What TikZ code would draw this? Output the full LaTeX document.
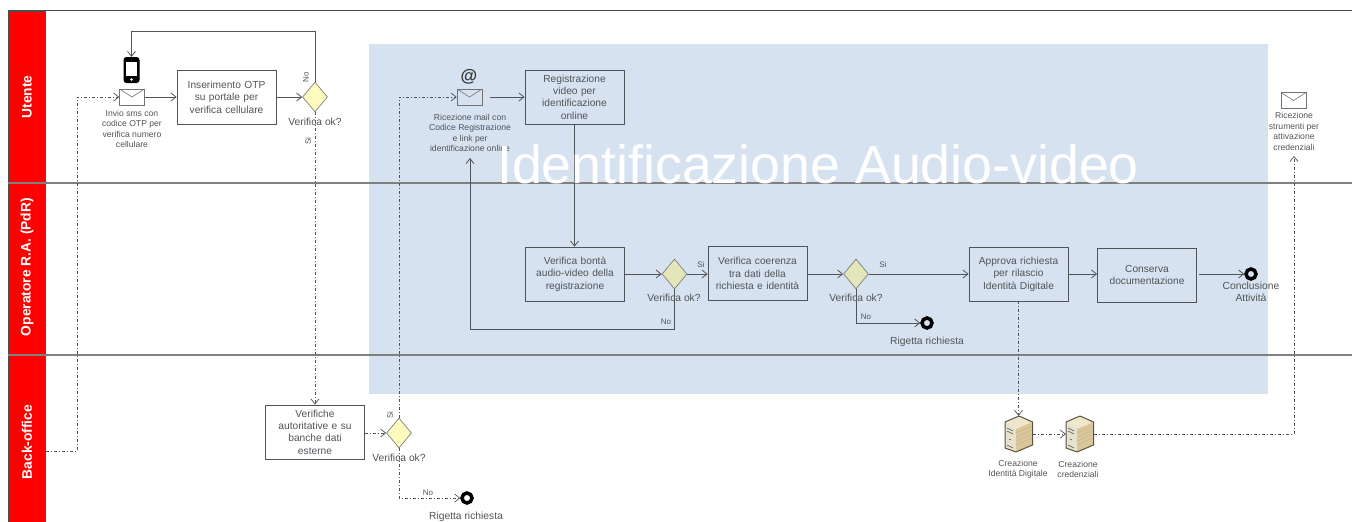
\documentclass[tikz,border=0pt]{standalone}
\usepackage{fontspec}
\setmainfont{Liberation Sans}
\usetikzlibrary{arrows.meta, shapes.geometric}
\definecolor{laneRed}{RGB}{255,0,0}
\definecolor{panelBlue}{RGB}{215,226,240}
\definecolor{inkGrey}{RGB}{80,84,88}
\definecolor{gateYellow}{RGB}{255,250,190}
\definecolor{gatePale}{RGB}{226,230,184}
\definecolor{srvTop}{RGB}{238,230,205}
\definecolor{srvSide}{RGB}{218,198,150}
\definecolor{srvFront}{RGB}{230,226,205}
\definecolor{srvEdge}{RGB}{90,82,62}
\tikzset{
    lane/.style={draw=black!70,fill=laneRed,minimum width=37pt,inner sep=0pt,anchor=north west},
    laneText/.style={rotate=90,text=white,font=\fontsize{13.8}{15}\bfseries\selectfont},
    laneLine/.style={draw=black!50,line width=1.2pt},
    taskBox/.style={draw=inkGrey,line width=0.8pt,minimum width=99pt,minimum height=54pt,inner sep=1pt,
        text width=96pt,align=center,text=inkGrey,font=\fontsize{10.2}{12.4}\selectfont},
    gateA/.style={diamond,draw=black!50,fill=gateYellow,line width=0.7pt,minimum width=25pt,minimum height=30pt,inner sep=0pt},
    gateB/.style={gateA,fill=gatePale},
    gateText/.style={text=inkGrey,font=\fontsize{10.3}{12.4}\selectfont},
    note/.style={text=inkGrey,align=center,font=\fontsize{8.6}{10.4}\selectfont},
    flagText/.style={text=inkGrey,font=\fontsize{8}{10}\selectfont},
    mail/.style={draw=black!55,line width=0.7pt,minimum width=25pt,minimum height=16pt,inner sep=0pt,
        path picture={\draw[black!55,line width=0.6pt] (path picture bounding box.north west)--(path picture bounding box.center)--(path picture bounding box.north east);}},
    endEvent/.style={circle,draw=black,line width=3.5pt,minimum size=10pt,inner sep=0pt},
    flow/.style={draw=inkGrey,line width=0.8pt,-{Straight Barb[length=5pt,width=8pt]}},
    msg/.style={flow,line width=0.7pt,dash pattern=on 3pt off 2pt on 1pt off 2pt},
    srvicon/.pic={
        \fill[srvTop] (-14,-12)--(0,-18)--(13.5,-12)--(-3,-5)--cycle;
        \fill[srvSide] (-3,-5)--(13.5,-12)--(13.5,11)--(-3,18)--cycle;
        \fill[srvFront] (-14,-12)--(-3,-5)--(-3,18)--(-14,14)--cycle;
        \foreach \i in {-1,3,7,11}{
            \draw[srvSide!70!black!60!white,line width=0.6pt] (-3,\i)--(13.5,\i-7);
        }
        \draw[black!70,line width=0.5pt] (-12,-6)--(-6,-3) (-12,-3)--(-6,0) (-10,5)--(-8,6) (-12,11)--(-6,14);
        \draw[srvEdge,line width=1pt,line join=round] (-14,-12)--(0,-18)--(13.5,-12)--(13.5,11)--(-3,18)--(-14,14)--cycle;
    },
}

\begin{document}
\begin{tikzpicture}[x=1pt,y=-1pt]
    \useasboundingbox (0,0) rectangle (1352,522);

    \fill[panelBlue] (369,44) rectangle (1268,394);

    % swimlanes
    \node[lane,minimum height=172pt] (laneUser) at (8,11) {};
    \node[lane,minimum height=172pt] (laneOper) at (8,183) {};
    \node[lane,minimum height=167pt] (laneBack) at (8,355) {};
    \node[laneText] (txtUser) at (27,97) {Utente};
    \node[laneText] (txtOper) at (27,267) {Operatore R.A. (PdR)};
    \node[laneText] (txtBack) at (27,442) {Back-office};
    \draw[draw=black!70,line width=0.8pt] (8,10.5)--(1352,10.5);
    \draw[laneLine] (8,183)--(1352,183);
    \draw[laneLine] (8,355)--(1352,355);

    % Utente
    \node[mail] (mailSms) at (132,97) {};
    \node[note] (txtSms) at (132,129) {Invio sms con\\codice OTP per\\verifica numero\\cellulare};
    \node[draw=black,fill=black,rounded corners=2.5pt,minimum width=15pt,minimum height=25pt,inner sep=0pt,line width=1pt] (phone) at (131.5,70) {};
    \fill[white] (126,62) rectangle (137,76);
    \fill[white] (131.5,79.5) circle (1.3);
    \node[taskBox] (boxOtp) at (226.5,97) {Inserimento OTP\\su portale per\\verifica cellulare};
    \node[gateA] (gateOtp) at (315,97) {};
    \node[gateText] (txtGateOtp) at (315,122) {Verifica ok?};
    \node[flagText,rotate=90] (txtOtpNo) at (306,77) {No};
    \node[flagText,rotate=90] (txtOtpSi) at (308,141) {Si};

    \node[mail] (mailReg) at (469.5,97) {};
    \node[font=\fontsize{17}{17}\bfseries\selectfont,text=black!80] (txtAt) at (469,76.5) {@};
    \node[note] (txtReg) at (470,133) {Ricezione mail con\\Codice Registrazione\\e link per\\identificazione online};
    \node[taskBox] (boxVideo) at (574.5,97) {Registrazione\\video per\\identificazione\\online};

    \node[mail] (mailCred) at (1293.5,100.5) {};
    \node[note] (txtCred) at (1294,131.5) {Ricezione\\strumenti per\\attivazione\\credenziali};

    % Operatore
    \node[taskBox] (boxAudio) at (575,274) {Verifica bontà\\audio-video della\\registrazione};
    \node[gateB] (gateAudio) at (674.5,274) {};
    \node[gateText] (txtGateAudio) at (674,298) {Verifica ok?};
    \node[taskBox] (boxData) at (757.5,273.5) {Verifica coerenza\\tra dati della\\richiesta e identità};
    \node[gateB] (gateData) at (856,274) {};
    \node[gateText] (txtGateData) at (856,298) {Verifica ok?};
    \node[taskBox] (boxOk) at (1018.5,274) {Approva richiesta\\per rilascio\\Identità Digitale};
    \node[taskBox] (boxKeep) at (1147,275) {Conserva\\documentazione\\[6pt]};
    \node[endEvent] (endOk) at (1251,274) {};
    \node[gateText,align=center] (txtEndOk) at (1251,292) {Conclusione\\Attività};
    \node[endEvent] (endData) at (927,323) {};
    \node[gateText] (txtEndData) at (927,342) {Rigetta richiesta};
    \node[flagText] (txtAudioSi) at (701,265) {Si};
    \node[flagText] (txtAudioNo) at (666,322) {No};
    \node[flagText] (txtDataSi) at (883,265) {Si};
    \node[flagText] (txtDataNo) at (866,317) {No};

    % Back-office
    \node[taskBox] (boxAuth) at (315,432) {Verifiche\\autoritative e su\\banche dati\\esterne};
    \node[gateA] (gateAuth) at (399,433) {};
    \node[gateText] (txtGateAuth) at (399,458) {Verifica ok?};
    \node[flagText,rotate=90] (txtAuthSi) at (390,415) {Si};
    \node[flagText] (txtAuthNo) at (428,493) {No};
    \node[endEvent] (endAuth) at (467,498) {};
    \node[gateText] (txtEndAuth) at (466,517) {Rigetta richiesta};

    \node[minimum width=28pt,minimum height=36pt,inner sep=0pt] (srvId) at (1019,434) {};
    \node[minimum width=28pt,minimum height=36pt,inner sep=0pt] (srvCred) at (1080,434) {};
    \pic at (srvId) {srvicon};
    \pic at (srvCred) {srvicon};
    \node[note] (txtSrvId) at (1018,469.5) {Creazione\\Identità Digitale};
    \node[note] (txtSrvCred) at (1078,469.5) {Creazione\\credenziali};

    % bends
    \coordinate (smsOut) at (46,451);
    \coordinate (smsBend) at (77,451);
    \coordinate (otpLoop) at (315,31);
    \coordinate (audioLoop) at (674.5,329);
    \coordinate (authBend) at (399,498);
    \coordinate (dataBend) at (856,323);
    \coordinate (credBend) at (1294,434);
    \coordinate (credTip) at (1294,156);
    \coordinate (regTip) at (470,158);

    % sequence flows
    \draw[flow] (mailSms.east)--(boxOtp.west);
    \draw[flow] (boxOtp.east)--(gateOtp.west);
    \draw[flow] (gateOtp.north)--(otpLoop)-|(phone.north);
    \draw[flow,shorten <=8pt] (mailReg.east)--(boxVideo.west);
    \draw[flow] (boxVideo.south)--(boxVideo.south|-boxAudio.north);
    \draw[flow] (boxAudio.east)--(gateAudio.west);
    \draw[flow] (gateAudio.east)--(gateAudio.east-|boxData.west);
    \draw[flow] (gateAudio.south)--(audioLoop)-|(regTip);
    \draw[flow] (boxData.east|-gateData.west)--(gateData.west);
    \draw[flow] (gateData.east)--(gateData.east-|boxOk.west);
    \draw[flow] (gateData.south)--(dataBend)--(endData.west);
    \draw[flow] (boxOk.east)--(boxOk.east-|boxKeep.west);
    \draw[flow,shorten <=2pt] (boxKeep.east|-endOk.west)--(endOk.west);

    % message flows
    \draw[msg] (smsOut)--(smsBend)|-(mailSms.west);
    \draw[msg] (gateOtp.south)--(boxAuth.north);
    \draw[msg] (boxAuth.east|-gateAuth.west)--(gateAuth.west);
    \draw[msg] (gateAuth.north)|-(mailReg.west);
    \draw[msg] (gateAuth.south)--(authBend)--(endAuth.west);
    \draw[msg] (boxOk.south)--(boxOk.south|-srvId.north);
    \draw[msg] (srvId.east)--(srvCred.west);
    \draw[msg] (srvCred.east)--(credBend)--(credTip);

    \node[text=white,font=\fontsize{53.7}{54}\selectfont] (title) at (818,164.5) {Identificazione Audio-video};
\end{tikzpicture}
\end{document}
